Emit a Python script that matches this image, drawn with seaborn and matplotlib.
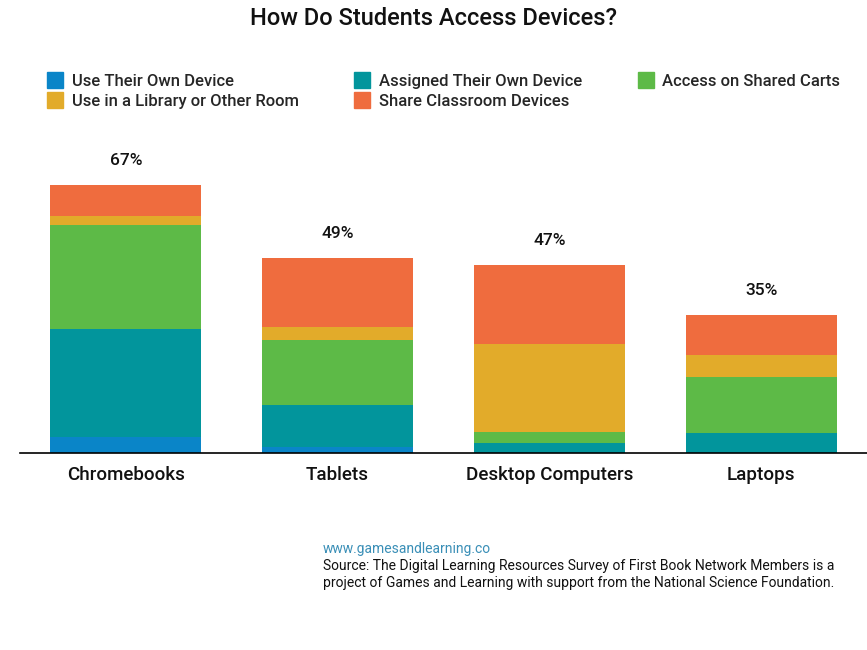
import matplotlib
matplotlib.use("Agg")
import matplotlib.pyplot as plt
from matplotlib.lines import Line2D
import numpy as np
import seaborn as sns

categories = ["Chromebooks", "Tablets", "Desktop Computers", "Laptops"]
series_names = ["Use Their Own Device", "Assigned Their Own Device", "Access on Shared Carts",
                "Use in a Library or Other Room", "Share Classroom Devices"]
own_device = [4.0, 1.5, 0.0, 0.0]
assigned_device = [27.0, 10.5, 2.5, 5.0]
shared_carts = [26.0, 16.3, 2.7, 14.0]
library_room = [2.25, 3.2, 22.0, 5.5]
classroom_devices = [7.75, 17.25, 19.75, 10.0]
total_labels = ["67%", "49%", "47%", "35%"]

colors = ["#0a85c8", "#02959c", "#5dba47", "#e2ab2a", "#ef6c3e"]

sns.set_theme(style="white")
plt.rcParams["font.family"] = ["Roboto", "DejaVu Sans"]

fig = plt.figure(figsize=(8.67, 6.5), dpi=100)
ax = fig.add_axes([0.023, 0.303, 0.977, 0.462])

layers = [own_device, assigned_device, shared_carts, library_room, classroom_devices]
cum = np.cumsum(np.array(layers), axis=0)

# draw tallest cumulative first so smaller layers overlay
for i in range(len(layers) - 1, -1, -1):
    sns.barplot(x=categories, y=cum[i], color=colors[i], saturation=1, width=0.714,
                errorbar=None, ax=ax, linewidth=0)

ax.set_xlim(-0.5, 3.5)
ax.set_ylim(0, 75)
ax.set_yticks([])
ax.set_ylabel("")
for s in ["top", "right", "left"]:
    ax.spines[s].set_visible(False)
ax.spines["bottom"].set_color("#000000")
ax.spines["bottom"].set_linewidth(1.2)
ax.tick_params(axis="x", length=0, pad=9, labelsize=13.5, labelcolor="#111111")
for t in ax.get_xticklabels():
    t.set_fontweight("medium")

for x, (tot, lab) in enumerate(zip(cum[-1], total_labels)):
    ax.annotate(lab, (x, tot), xytext=(0, 12), textcoords="offset points",
                ha="center", va="bottom", fontsize=12.5, color="#111111", fontweight="medium")

fig.text(0.5, 0.972, "How Do Students Access Devices?", ha="center", va="center",
         fontsize=17, color="#111111", fontweight="medium")

order = [0, 3, 1, 4, 2]
handles = [Line2D([0], [0], marker="s", linestyle="none", markersize=11,
                  markerfacecolor=colors[i], markeredgecolor=colors[i]) for i in order]
labels = [series_names[i] for i in order]
leg = fig.legend(handles, labels, loc="upper left", bbox_to_anchor=(0.037, 0.91), ncol=3,
                 frameon=False, fontsize=12, handletextpad=0.5, columnspacing=3.3,
                 labelspacing=0.3, handlelength=1.0)
for t in leg.get_texts():
    t.set_fontweight("medium")

fig.text(0.3725, 0.155, "www.gamesandlearning.co", ha="left", va="center",
         fontsize=10, color="#3a8fb7")
fig.text(0.3725, 0.129, "Source: The Digital Learning Resources Survey of First Book Network Members is a",
         ha="left", va="center", fontsize=10, color="#111111")
fig.text(0.3725, 0.103, "project of Games and Learning with support from the National Science Foundation.",
         ha="left", va="center", fontsize=10, color="#111111")

fig.savefig("out.png", dpi=100)
